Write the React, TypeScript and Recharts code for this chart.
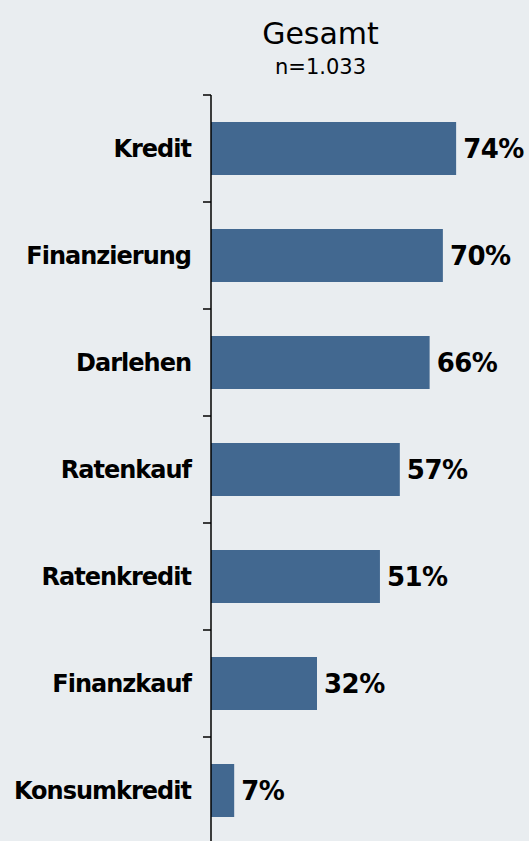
import React from 'react';
import { BarChart, Bar, XAxis, YAxis, LabelList } from 'recharts';

const categories = ['Kredit', 'Finanzierung', 'Darlehen', 'Ratenkauf', 'Ratenkredit', 'Finanzkauf', 'Konsumkredit'];
const shares = [74, 70, 66, 57, 51, 32, 7];

const title = 'Gesamt';
const subtitle = 'n=1.033';

const BG = '#e9edf0';
const BAR = '#426890';
const FONT = '"DejaVu Sans", Verdana, sans-serif';

const chartData = categories.map((name, i) => ({ name, value: shares[i] }));

// label at band centre, small tick mark at the band's upper edge
const CategoryTick = (props: any) => {
    const { x, y, payload } = props;
    const half = payload.offset || 0;
    return (
        <g>
            <line x1={x + 12} x2={x + 20} y1={y - half} y2={y - half} stroke="#000" strokeWidth={1.5} />
            <text x={x} y={y} dy="0.36em" textAnchor="end" fontFamily={FONT} fontWeight="bold" fontSize={24} letterSpacing={-1} fill="#000">
                {payload.value}
            </text>
        </g>
    );
};

export default function App() {
    return (
        <div style={{ position: 'fixed', top: 0, left: 0, width: 529, height: 841, overflow: 'hidden', background: BG }}>
            <div style={{ position: 'absolute', left: 0, top: 0, width: 641, textAlign: 'center', fontFamily: FONT, color: '#000' }}>
                <div style={{ fontSize: 30, lineHeight: '34px', marginTop: 17 }}>{title}</div>
                <div style={{ fontSize: 21, lineHeight: '24px', marginTop: 4 }}>{subtitle}</div>
            </div>
            <div style={{ position: 'absolute', left: 0, top: 0 }}>
                <BarChart
                    width={529}
                    height={850}
                    layout="vertical"
                    data={chartData}
                    margin={{ top: 95, right: 0, bottom: 6, left: 0 }}
                >
                    <XAxis type="number" domain={[0, 96]} hide />
                    <YAxis
                        type="category"
                        dataKey="name"
                        width={211}
                        axisLine={{ stroke: '#000', strokeWidth: 1.5 }}
                        tickLine={false}
                        tickSize={8}
                        tickMargin={12}
                        tick={<CategoryTick />}
                        interval={0}
                    />
                    <Bar dataKey="value" fill={BAR} barSize={53} isAnimationActive={false}>
                        <LabelList
                            dataKey="value"
                            position="right"
                            offset={7}
                            formatter={(v: any) => `${v}%`}
                            style={{ fontFamily: FONT, fontWeight: 'bold', fontSize: 26, letterSpacing: -0.5, fill: '#000' }}
                        />
                    </Bar>
                </BarChart>
            </div>
        </div>
    );
}
